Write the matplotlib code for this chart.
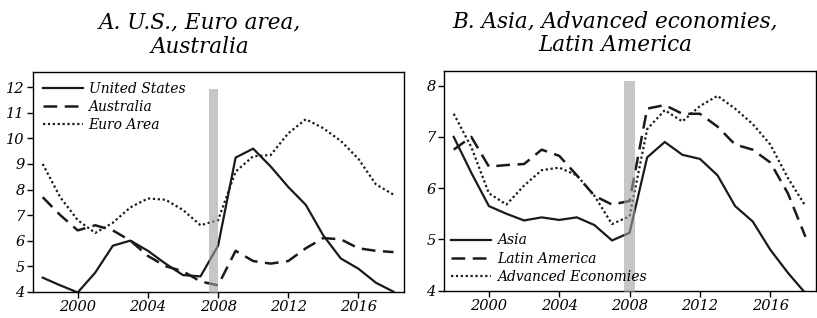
import matplotlib
matplotlib.use('Agg')
import matplotlib.pyplot as plt

years = list(range(1998, 2019))

# Panel A
us = [4.55, 4.25, 3.97, 4.75, 5.8, 6.0, 5.6, 5.1, 4.65, 4.6, 5.8, 9.25, 9.6, 8.9,
      8.1, 7.4, 6.2, 5.3, 4.9, 4.35, 4.0]
australia = [7.7, 7.0, 6.4, 6.6, 6.4, 6.0, 5.4, 5.0, 4.8, 4.4, 4.25, 5.6, 5.2, 5.1,
             5.2, 5.7, 6.1, 6.05, 5.7, 5.6, 5.55]
euro = [9.0, 7.7, 6.8, 6.3, 6.7, 7.3, 7.65, 7.6, 7.2, 6.6, 6.8, 8.7, 9.3, 9.35,
        10.2, 10.75, 10.4, 9.9, 9.2, 8.2, 7.8]

# Panel B
asia = [7.0, 6.3, 5.65, 5.5, 5.37, 5.43, 5.38, 5.43, 5.28, 4.98, 5.13, 6.6, 6.9,
        6.65, 6.57, 6.25, 5.65, 5.35, 4.8, 4.35, 3.95]
latam = [6.75, 7.0, 6.42, 6.45, 6.47, 6.75, 6.63, 6.25, 5.85, 5.68, 5.75, 7.55,
         7.62, 7.45, 7.45, 7.2, 6.85, 6.75, 6.5, 5.9, 5.05]
advanced = [7.45, 6.8, 5.9, 5.68, 6.05, 6.35, 6.4, 6.25, 5.85, 5.3, 5.45, 7.15,
            7.52, 7.3, 7.6, 7.8, 7.55, 7.25, 6.85, 6.2, 5.65]

xticks = [2000, 2004, 2008, 2012, 2016]
crisis_a = (2007.5, 2008.0, 3.95, 11.95)
crisis_b = (2007.7, 2008.3, 3.97, 8.08)

plt.rcParams['font.family'] = ['DejaVu Serif']
plt.rcParams['font.style'] = 'italic'

fig = plt.figure(figsize=(8.17, 3.18), dpi=100)
ax1 = fig.add_axes([0.0404, 0.0827, 0.4541, 0.6909])
ax2 = fig.add_axes([0.5435, 0.0858, 0.4553, 0.6919])

solid = dict(color='#1a1a1a', lw=1.6, ls='-')
dashed = dict(color='#1a1a1a', lw=1.8, ls=(0, (5.5, 3)))
dotted = dict(color='#1a1a1a', lw=1.6, ls=(0, (1, 1.2)))


def style(ax, ylim, yticks, title, title_x):
    ax.set_xlim(1997.45, 2018.6)
    ax.set_ylim(*ylim)
    ax.set_xticks(xticks)
    ax.set_yticks(yticks)
    ax.tick_params(direction='out', length=4, width=1, labelsize=10.5, pad=2,
                   top=False, right=False)
    for lab in ax.get_xticklabels() + ax.get_yticklabels():
        lab.set_fontstyle('italic')
    for sp in ax.spines.values():
        sp.set_linewidth(1.0)
    ax.set_title(title, fontsize=15.5, style='italic', pad=14, linespacing=1.1,
                 x=title_x)


x0, x1, b0, b1 = crisis_a
ax1.fill_between([x0, x1], b0, b1, color='#a0a0a0', alpha=0.6, lw=0, zorder=4,
                 clip_on=False)
ax1.plot(years, us, label='United States', zorder=3, **solid)
ax1.plot(years, australia, label='Australia', zorder=3, **dashed)
ax1.plot(years, euro, label='Euro Area', zorder=3, **dotted)
style(ax1, (4, 12.6), range(4, 13), 'A. U.S., Euro area,\nAustralia', 0.449)
ax1.legend(loc='upper left', frameon=False, handlelength=2.9,
           handletextpad=0.4, labelspacing=0.3, borderaxespad=0.3,
           prop={'style': 'italic', 'size': 10})

x0, x1, b0, b1 = crisis_b
ax2.fill_between([x0, x1], b0, b1, color='#a0a0a0', alpha=0.6, lw=0, zorder=4,
                 clip_on=False)
ax2.plot(years, asia, label='Asia', zorder=3, **solid)
ax2.plot(years, latam, label='Latin America', zorder=3, **dashed)
ax2.plot(years, advanced, label='Advanced Economies', zorder=3, **dotted)
style(ax2, (4, 8.29), range(4, 9), 'B. Asia, Advanced economies,\nLatin America',
      0.461)
ax2.legend(loc='lower left', frameon=False, handlelength=2.9,
           handletextpad=0.4, labelspacing=0.3, borderaxespad=0.1,
           prop={'style': 'italic', 'size': 10})

fig.savefig('out.png', dpi=100)
